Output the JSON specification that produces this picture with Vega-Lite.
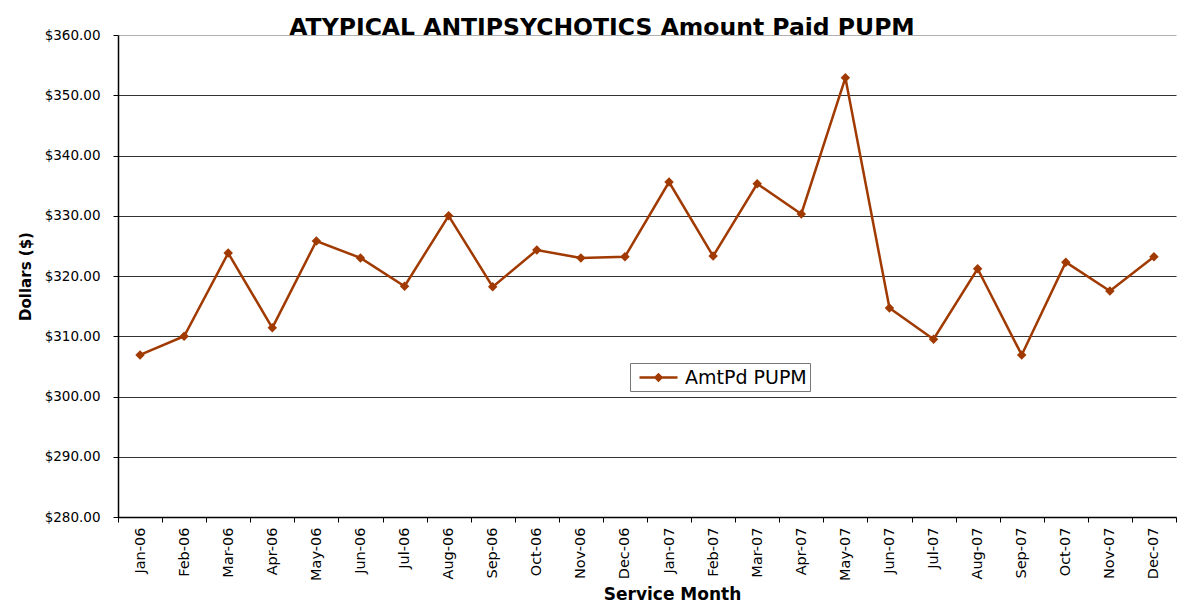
{
  "$schema": "https://vega.github.io/schema/vega-lite/v6.json",
  "autosize": {"type": "none"},
  "width": 1058,
  "height": 482,
  "padding": {"left": 118, "top": 35, "right": 15, "bottom": 90},
  "background": "white",
  "title": {
    "text": "ATYPICAL ANTIPSYCHOTICS Amount Paid PUPM",
    "font": "DejaVu Sans",
    "fontSize": 23.5,
    "fontWeight": "bold",
    "color": "#000000",
    "anchor": "middle",
    "frame": "group",
    "dx": -45,
    "offset": -11
  },
  "data": {
    "values": [
      {"month": "Jan-06", "value": 306.9, "series": "AmtPd PUPM"},
      {"month": "Feb-06", "value": 310.0, "series": "AmtPd PUPM"},
      {"month": "Mar-06", "value": 323.8, "series": "AmtPd PUPM"},
      {"month": "Apr-06", "value": 311.4, "series": "AmtPd PUPM"},
      {"month": "May-06", "value": 325.8, "series": "AmtPd PUPM"},
      {"month": "Jun-06", "value": 323.0, "series": "AmtPd PUPM"},
      {"month": "Jul-06", "value": 318.3, "series": "AmtPd PUPM"},
      {"month": "Aug-06", "value": 330.0, "series": "AmtPd PUPM"},
      {"month": "Sep-06", "value": 318.2, "series": "AmtPd PUPM"},
      {"month": "Oct-06", "value": 324.3, "series": "AmtPd PUPM"},
      {"month": "Nov-06", "value": 323.0, "series": "AmtPd PUPM"},
      {"month": "Dec-06", "value": 323.2, "series": "AmtPd PUPM"},
      {"month": "Jan-07", "value": 335.6, "series": "AmtPd PUPM"},
      {"month": "Feb-07", "value": 323.3, "series": "AmtPd PUPM"},
      {"month": "Mar-07", "value": 335.3, "series": "AmtPd PUPM"},
      {"month": "Apr-07", "value": 330.3, "series": "AmtPd PUPM"},
      {"month": "May-07", "value": 352.9, "series": "AmtPd PUPM"},
      {"month": "Jun-07", "value": 314.7, "series": "AmtPd PUPM"},
      {"month": "Jul-07", "value": 309.5, "series": "AmtPd PUPM"},
      {"month": "Aug-07", "value": 321.2, "series": "AmtPd PUPM"},
      {"month": "Sep-07", "value": 306.9, "series": "AmtPd PUPM"},
      {"month": "Oct-07", "value": 322.3, "series": "AmtPd PUPM"},
      {"month": "Nov-07", "value": 317.5, "series": "AmtPd PUPM"},
      {"month": "Dec-07", "value": 323.2, "series": "AmtPd PUPM"}
    ]
  },
  "encoding": {
    "x": {
      "field": "month",
      "type": "ordinal",
      "sort": null,
      "scale": {"type": "band", "paddingInner": 0, "paddingOuter": 0},
      "axis": {
        "title": "Service Month",
        "titleFont": "DejaVu Sans",
        "titleFontSize": 17,
        "titleFontWeight": "bold",
        "titleColor": "#000000",
        "titleX": 554,
        "titlePadding": 6,
        "labelAngle": -90,
        "labelAlign": "right",
        "labelBaseline": "middle",
        "labelFont": "DejaVu Sans",
        "labelFontSize": 14.5,
        "labelColor": "#000000",
        "labelPadding": 5,
        "tickBand": "extent",
        "ticks": true,
        "tickSize": 5,
        "tickColor": "#000000",
        "domainColor": "#000000",
        "domainWidth": 1.5,
        "grid": false
      }
    },
    "y": {
      "field": "value",
      "type": "quantitative",
      "scale": {"domain": [280, 360], "nice": false, "zero": false},
      "axis": {
        "title": "Dollars ($)",
        "titleFont": "DejaVu Sans",
        "titleFontSize": 15,
        "titleFontWeight": "bold",
        "titleColor": "#000000",
        "titlePadding": 11,
        "values": [280, 290, 300, 310, 320, 330, 340, 350, 360],
        "format": "$,.2f",
        "labelFont": "DejaVu Sans",
        "labelFontSize": 13.5,
        "labelColor": "#000000",
        "labelPadding": 13,
        "tickSize": 5,
        "tickColor": "#000000",
        "domainColor": "#000000",
        "domainWidth": 1.5,
        "grid": true,
        "gridColor": {"condition": {"test": "datum.value === 360", "value": "#b0b0b0"}, "value": "#333333"},
        "gridWidth": 1
      }
    },
    "color": {
      "field": "series",
      "type": "nominal",
      "scale": {"range": ["#A03A00"]},
      "legend": {
        "title": null,
        "orient": "none",
        "legendX": 512,
        "legendY": 328,
        "symbolType": "M-0.5,0H3.3M1.1,0L1.4,-0.3L1.7,0L1.4,0.3Z",
        "symbolSize": 400,
        "symbolStrokeWidth": 2.5,
        "symbolFillColor": "#A03A00",
        "symbolStrokeColor": "#A03A00",
        "labelOffset": 29,
        "labelFont": "DejaVu Sans",
        "labelFontSize": 19,
        "labelColor": "#000000",
        "strokeColor": "#777777",
        "fillColor": "white",
        "padding": 3
      }
    }
  },
  "layer": [
    {"mark": {"type": "line", "strokeWidth": 2.5}},
    {"mark": {"type": "point", "shape": "diamond", "filled": true, "size": 90, "opacity": 1}}
  ],
  "config": {"view": {"stroke": null}}
}
